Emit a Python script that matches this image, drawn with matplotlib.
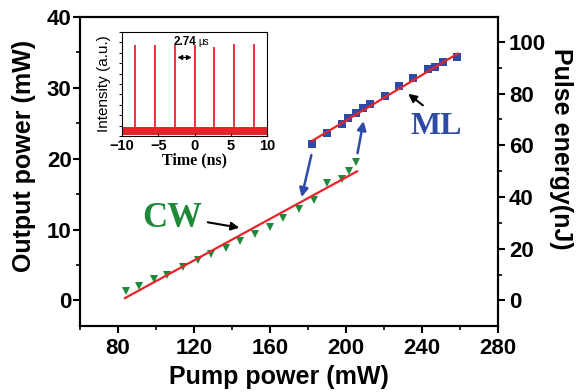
import matplotlib
matplotlib.use("Agg")
import matplotlib.pyplot as plt
import numpy as np
from matplotlib.ticker import MultipleLocator

# CW regime (green triangles)
cw_pump = [84, 91, 99, 106, 114, 122, 129, 137, 144, 152, 160, 167, 175, 183, 190, 198, 201.5, 205]
cw_power = [1.3, 2.1, 3.0, 3.6, 4.7, 5.7, 6.6, 7.4, 8.4, 9.4, 10.4, 11.6, 12.9, 14.2, 16.6, 17.2, 18.3, 19.5]

# mode-locked regime (blue squares)
ml_pump = [182.3, 189.9, 197.7, 201.2, 205.3, 208.8, 212.6, 220.5, 228, 235.4, 243, 246.8, 250.9, 258.3]
ml_power = [22.1, 23.7, 24.9, 25.7, 26.4, 27.1, 27.7, 28.9, 30.2, 31.4, 32.6, 33.0, 33.7, 34.4]

# linear fits: (slope, intercept, x start, x end)
cw_fit = (0.1464, -11.91, 83.7, 205.8)
ml_fit = (0.1606, -6.73, 182.0, 258.8)

# pulse energy (nJ) = output power (mW) * period (us)
period_us = 2.74

# inset pulse train
pulse_times = [-8.22, -5.48, -2.74, 0, 2.74, 5.48, 8.22]
pulse_heights = [0.872, 0.872, 0.875, 0.872, 0.856, 0.88, 0.88]
noise_band = (0.01, 0.087)

red = "#e8242a"
green = "#1d8a3a"
blue = "#2c4aa6"

fig = plt.figure(figsize=(5.76, 3.92), dpi=100)
ax = fig.add_axes([80 / 576, 1 - 326 / 392, 418 / 576, 309 / 392])

ax.plot(cw_pump, cw_power, linestyle="none", marker="v", markersize=6, markeredgewidth=0, color=green)
ax.plot(ml_pump, ml_power, linestyle="none", marker="s", markersize=5.5, markeredgewidth=0, color=blue)

for slope, icpt, x0, x1 in (cw_fit, ml_fit):
    xs = np.array([x0, x1])
    ax.plot(xs, slope * xs + icpt, color=red, linewidth=1.6)

ax.set_xlim(60, 280)
ax.set_ylim(-3.6, 40)
ax.xaxis.set_minor_locator(MultipleLocator(20))
ax.yaxis.set_major_locator(MultipleLocator(10))
ax.yaxis.set_minor_locator(MultipleLocator(5))
ax.set_xticks(np.arange(80, 281, 40))

tick_font = {"family": "Liberation Sans", "weight": "bold", "size": 16}
label_font = {"family": "Liberation Sans", "weight": "bold", "size": 18}
for spine in ax.spines.values():
    spine.set_linewidth(1.5)
ax.tick_params(which="major", direction="out", length=5, width=1.5, top=False)
ax.tick_params(which="minor", direction="out", length=3, width=1.2, top=False)
ax.tick_params(axis="y", pad=1)
ax.tick_params(axis="x", pad=4)
for lbl in ax.get_xticklabels() + ax.get_yticklabels():
    lbl.set_fontproperties(tick_font)

ax2 = ax.twinx()
ax2.set_ylim(-3.6 * period_us, 40 * period_us)
ax2.yaxis.set_minor_locator(MultipleLocator(10))
ax2.set_yticks(np.arange(0, 101, 20))
ax2.tick_params(which="major", direction="out", length=5, width=1.5, pad=3)
ax2.tick_params(which="minor", direction="out", length=3, width=1.2)
for lbl in ax2.get_yticklabels():
    lbl.set_fontproperties(tick_font)
for spine in ax2.spines.values():
    spine.set_linewidth(1.5)

fig.text(24 / 576, 1 - 156 / 392, "Output power (mW)", rotation=90, ha="center", va="center", **label_font)
fig.text(278.5 / 576, 1 - 384 / 392, "Pump power (mW)", ha="center", va="baseline", **label_font)
fig.text(561 / 576, 1 - 149 / 392, "Pulse energy(nJ)", rotation=270, ha="center", va="center", **label_font)

# annotations
serif = {"family": "Liberation Serif", "weight": "bold"}
ax.text(108.4, 11.5, "CW", color=green, fontsize=25, ha="center", va="center", **serif)
ax.text(247.4, 24.5, "ML", color=blue, fontsize=23, ha="center", va="center", **serif)
ax.annotate("", xy=(145.3, 10.2), xytext=(125.8, 11.1),
            arrowprops=dict(arrowstyle="-|>", color="black", lw=1.5, mutation_scale=12))
ax.annotate("", xy=(231.6, 29.4), xytext=(241.6, 27.3),
            arrowprops=dict(arrowstyle="-|>", color="black", lw=1.5, mutation_scale=12))
ax.annotate("", xy=(176.3, 14.2), xytext=(182.1, 20.9),
            arrowprops=dict(arrowstyle="-|>", color=blue, lw=1.8, mutation_scale=13))
ax.annotate("", xy=(209.5, 25.7), xytext=(205.8, 20.4),
            arrowprops=dict(arrowstyle="-|>", color=blue, lw=1.8, mutation_scale=13))

# inset
ins = fig.add_axes([122 / 576, 1 - 136 / 392, 145 / 576, 104 / 392])
ins.fill_between([-10, 10], noise_band[0], noise_band[1], color=red, linewidth=0)
ins.vlines(pulse_times, noise_band[1], pulse_heights, color=red, linewidth=1.3)
ins.set_xlim(-10, 10)
ins.set_ylim(0, 1)
ins.set_xticks([-10, -5, 0, 5, 10])
ins.yaxis.set_major_locator(MultipleLocator(0.1))
ins.set_yticklabels([])
ins.tick_params(axis="y", which="both", direction="out", length=2.5, width=0.7)
ins.tick_params(axis="x", direction="in", length=2, width=0.8, pad=2)
for lbl in ins.get_xticklabels():
    lbl.set_fontproperties({"family": "Liberation Sans", "weight": "bold", "size": 10.5})
for spine in ins.spines.values():
    spine.set_linewidth(0.8)
ins.set_xlabel("Time (ns)", family="Liberation Serif", weight="bold", size=11.5, labelpad=0)
ins.set_ylabel("Intensity (a.u.)", family="Liberation Sans", size=11, labelpad=2)
ins.text(-2.85, 0.9, "2.74", family="Liberation Sans", weight="bold", size=8.5, ha="left", va="center")
ins.text(0.6, 0.9, "\u03bcs", family="Liberation Sans", size=7, ha="left", va="center")
ins.annotate("", xy=(-2.74, 0.755), xytext=(0, 0.755),
             arrowprops=dict(arrowstyle="<|-|>", color="black", lw=0.9, mutation_scale=7))

fig.savefig("out.png", dpi=100)
